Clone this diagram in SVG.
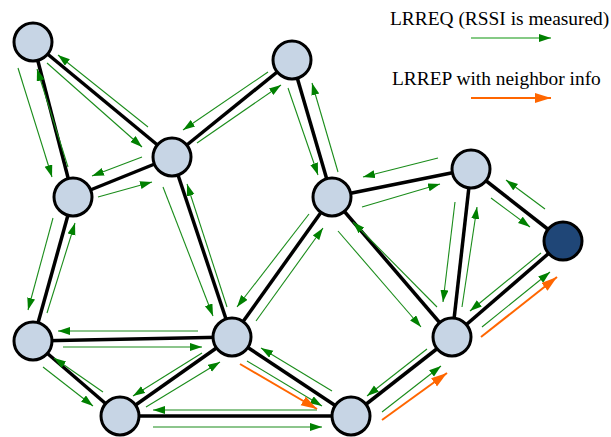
<svg xmlns="http://www.w3.org/2000/svg" width="611" height="437" viewBox="0 0 611 437">
<defs>
<marker id="gh" markerUnits="userSpaceOnUse" markerWidth="13" markerHeight="9" refX="12" refY="4" orient="auto">
<path d="M0,0 L12,4 L0,8 z" fill="#008000"/>
</marker>
<marker id="oh" markerUnits="userSpaceOnUse" markerWidth="17" markerHeight="11" refX="16" refY="5" orient="auto">
<path d="M0,0 L16,5 L0,10 z" fill="#ff6600"/>
</marker>
</defs>
<style>
.e{stroke:#000;stroke-width:3.5;fill:none}
.g{stroke:#1a8c1a;stroke-width:1.1;fill:none;marker-end:url(#gh)}
.o{stroke:#ff6600;stroke-width:2;fill:none;marker-end:url(#oh)}
.n{fill:#c7d5e5;stroke:#000;stroke-width:3}
.d{fill:#1f4677;stroke:#000;stroke-width:3}
.t{font-family:"Liberation Serif",serif;font-size:19.4px;fill:#000}
</style>
<rect width="611" height="437" fill="#fff"/>
<g id="connectors">
<line class="e" x1="33" y1="42" x2="73" y2="197"/>
<line class="e" x1="33" y1="42" x2="172" y2="157"/>
<line class="e" x1="73" y1="197" x2="172" y2="157"/>
<line class="e" x1="172" y1="157" x2="292" y2="60"/>
<line class="e" x1="172" y1="157" x2="232" y2="337"/>
<line class="e" x1="292" y1="60" x2="332" y2="197"/>
<line class="e" x1="332" y1="197" x2="471" y2="169"/>
<line class="e" x1="332" y1="197" x2="232" y2="337"/>
<line class="e" x1="332" y1="197" x2="452" y2="337"/>
<line class="e" x1="471" y1="169" x2="563" y2="241"/>
<line class="e" x1="471" y1="169" x2="452" y2="337"/>
<line class="e" x1="563" y1="241" x2="452" y2="337"/>
<line class="e" x1="73" y1="197" x2="33" y2="341"/>
<line class="e" x1="33" y1="341" x2="232" y2="337"/>
<line class="e" x1="33" y1="341" x2="120" y2="416"/>
<line class="e" x1="120" y1="416" x2="232" y2="337"/>
<line class="e" x1="120" y1="416" x2="351" y2="416"/>
<line class="e" x1="232" y1="337" x2="351" y2="416"/>
<line class="e" x1="452" y1="337" x2="351" y2="416"/>
<line class="g" x1="18" y1="68" x2="52" y2="177"/>
<line class="g" x1="68" y1="167" x2="37" y2="69"/>
<line class="g" x1="47" y1="63" x2="142" y2="147"/>
<line class="g" x1="148" y1="127" x2="58" y2="55"/>
<line class="g" x1="142" y1="157" x2="92" y2="176"/>
<line class="g" x1="98" y1="197" x2="152" y2="182"/>
<line class="g" x1="268" y1="72" x2="183" y2="130"/>
<line class="g" x1="197" y1="143" x2="281" y2="85"/>
<line class="g" x1="288" y1="88" x2="318" y2="175"/>
<line class="g" x1="338" y1="172" x2="312" y2="83"/>
<line class="g" x1="163" y1="187" x2="213" y2="316"/>
<line class="g" x1="227" y1="307" x2="187" y2="184"/>
<line class="g" x1="309" y1="214" x2="237" y2="307"/>
<line class="g" x1="256" y1="321" x2="323" y2="228"/>
<line class="g" x1="438" y1="158" x2="363" y2="177"/>
<line class="g" x1="362" y1="207" x2="440" y2="184"/>
<line class="g" x1="545" y1="209" x2="506" y2="180"/>
<line class="g" x1="491" y1="198" x2="530" y2="227"/>
<line class="g" x1="541" y1="253" x2="470" y2="311"/>
<line class="g" x1="482" y1="327" x2="550" y2="272"/>
<line class="g" x1="338" y1="231" x2="421" y2="327"/>
<line class="g" x1="437" y1="307" x2="353" y2="222"/>
<line class="g" x1="455" y1="202" x2="443" y2="302"/>
<line class="g" x1="462" y1="307" x2="477" y2="207"/>
<line class="g" x1="53" y1="218" x2="28" y2="310"/>
<line class="g" x1="47" y1="313" x2="75" y2="223"/>
<line class="g" x1="198" y1="331" x2="58" y2="331"/>
<line class="g" x1="63" y1="347" x2="202" y2="347"/>
<line class="g" x1="43" y1="367" x2="93" y2="406"/>
<line class="g" x1="103" y1="392" x2="54" y2="358"/>
<line class="g" x1="202" y1="353" x2="133" y2="396"/>
<line class="g" x1="146" y1="407" x2="220" y2="362"/>
<line class="g" x1="317" y1="410" x2="153" y2="410"/>
<line class="g" x1="153" y1="427" x2="322" y2="427"/>
<line class="g" x1="332" y1="391" x2="261" y2="348"/>
<line class="g" x1="247" y1="361" x2="322" y2="406"/>
<line class="g" x1="427" y1="349" x2="367" y2="396"/>
<line class="g" x1="382" y1="412" x2="441" y2="366"/>
<line class="o" x1="240" y1="364" x2="317" y2="409"/>
<line class="o" x1="382" y1="420" x2="447" y2="373"/>
<line class="o" x1="481" y1="337" x2="557" y2="277"/>
</g>
<g id="nA"><circle class="n" cx="33" cy="42" r="19"/></g>
<g id="nB"><circle class="n" cx="73" cy="197" r="19"/></g>
<g id="nC"><circle class="n" cx="172" cy="157" r="19"/></g>
<g id="nD"><circle class="n" cx="292" cy="60" r="19"/></g>
<g id="nE"><circle class="n" cx="332" cy="197" r="19"/></g>
<g id="nF"><circle class="n" cx="471" cy="169" r="19"/></g>
<g id="nG"><circle class="d" cx="563" cy="241" r="19"/></g>
<g id="nH"><circle class="n" cx="33" cy="341" r="19"/></g>
<g id="nI"><circle class="n" cx="232" cy="337" r="19"/></g>
<g id="nJ"><circle class="n" cx="452" cy="337" r="19"/></g>
<g id="nK"><circle class="n" cx="120" cy="416" r="19"/></g>
<g id="nL"><circle class="n" cx="351" cy="416" r="19"/></g>
<g id="legend">
<text class="t" x="390" y="25">LRREQ (RSSI is measured)</text>
<line x1="471" y1="38" x2="551" y2="38" stroke="#5cb85c" stroke-width="1.6" marker-end="url(#gh)"/>
<text class="t" x="392" y="85">LRREP with neighbor info</text>
<line class="o" x1="471" y1="98" x2="551" y2="98"/>
</g>
</svg>
